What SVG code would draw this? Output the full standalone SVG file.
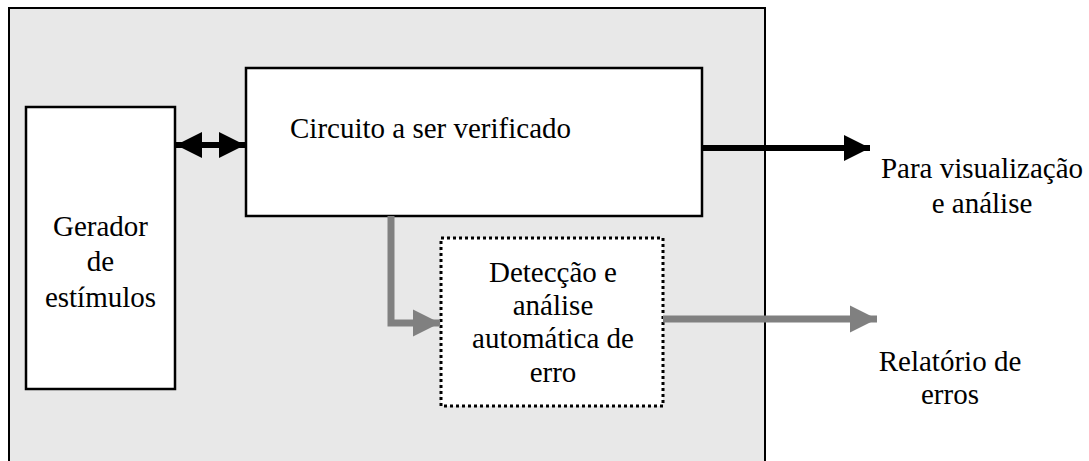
<svg xmlns="http://www.w3.org/2000/svg" width="1089" height="461" viewBox="0 0 1089 461">
<style>
.t{font-family:'Liberation Serif','Times New Roman',serif;font-size:29px;fill:#000}
.box{fill:#fff;stroke:#000;stroke-width:2.5}
</style>
<defs>
<marker id="ab" viewBox="0 0 10 10" refX="10" refY="5" markerUnits="userSpaceOnUse" markerWidth="26" markerHeight="28" orient="auto-start-reverse"><path d="M0,0L10,5L0,10Z" fill="#000"/></marker>
<marker id="ag" viewBox="0 0 10 10" refX="10" refY="5" markerUnits="userSpaceOnUse" markerWidth="27" markerHeight="29" orient="auto"><path d="M0,0L10,5L0,10Z" fill="#808080"/></marker>
</defs>
<rect width="1089" height="461" fill="#fff"/>
<g id="ambiente">
<rect x="9" y="8" width="756" height="470" fill="#e8e8e8" stroke="#000" stroke-width="2"/>
</g>
<g id="gerador">
<rect class="box" x="26" y="107" width="149" height="282"/>
<text class="t" font-family="Liberation Serif" text-anchor="middle"><tspan x="100.5" y="236">Gerador</tspan><tspan x="100.5" y="271">de</tspan><tspan x="100.5" y="307">est&#237;mulos</tspan></text>
</g>
<g id="circuito">
<rect class="box" x="246" y="68" width="456" height="148"/>
<text class="t" font-family="Liberation Serif" x="290" y="138">Circuito a ser verificado</text>
</g>
<g id="deteccao">
<rect x="441" y="238" width="222" height="168" fill="#fff" stroke="#000" stroke-width="3" stroke-dasharray="3,3"/>
<text class="t" font-family="Liberation Serif" text-anchor="middle"><tspan x="553" y="282">Detec&#231;&#227;o e</tspan><tspan x="553" y="315">an&#225;lise</tspan><tspan x="553" y="348">autom&#225;tica de</tspan><tspan x="553" y="382">erro</tspan></text>
</g>
<g id="saida-visualizacao">
<text class="t" font-family="Liberation Serif" text-anchor="middle"><tspan x="982" y="178">Para visualiza&#231;&#227;o</tspan><tspan x="982" y="213">e an&#225;lise</tspan></text>
</g>
<g id="saida-relatorio">
<text class="t" font-family="Liberation Serif" text-anchor="middle"><tspan x="950" y="371">Relat&#243;rio de</tspan><tspan x="950" y="404">erros</tspan></text>
</g>
<g id="connectors" fill="none">
<line x1="176" y1="145" x2="245" y2="145" stroke="#000" stroke-width="6" marker-start="url(#ab)" marker-end="url(#ab)"/>
<line x1="702" y1="148" x2="870" y2="148" stroke="#000" stroke-width="6" marker-end="url(#ab)"/>
<path d="M391,216V323H440" stroke="#808080" stroke-width="7" marker-end="url(#ag)"/>
<line x1="663" y1="319" x2="877" y2="319" stroke="#808080" stroke-width="7" marker-end="url(#ag)"/>
</g>
</svg>
